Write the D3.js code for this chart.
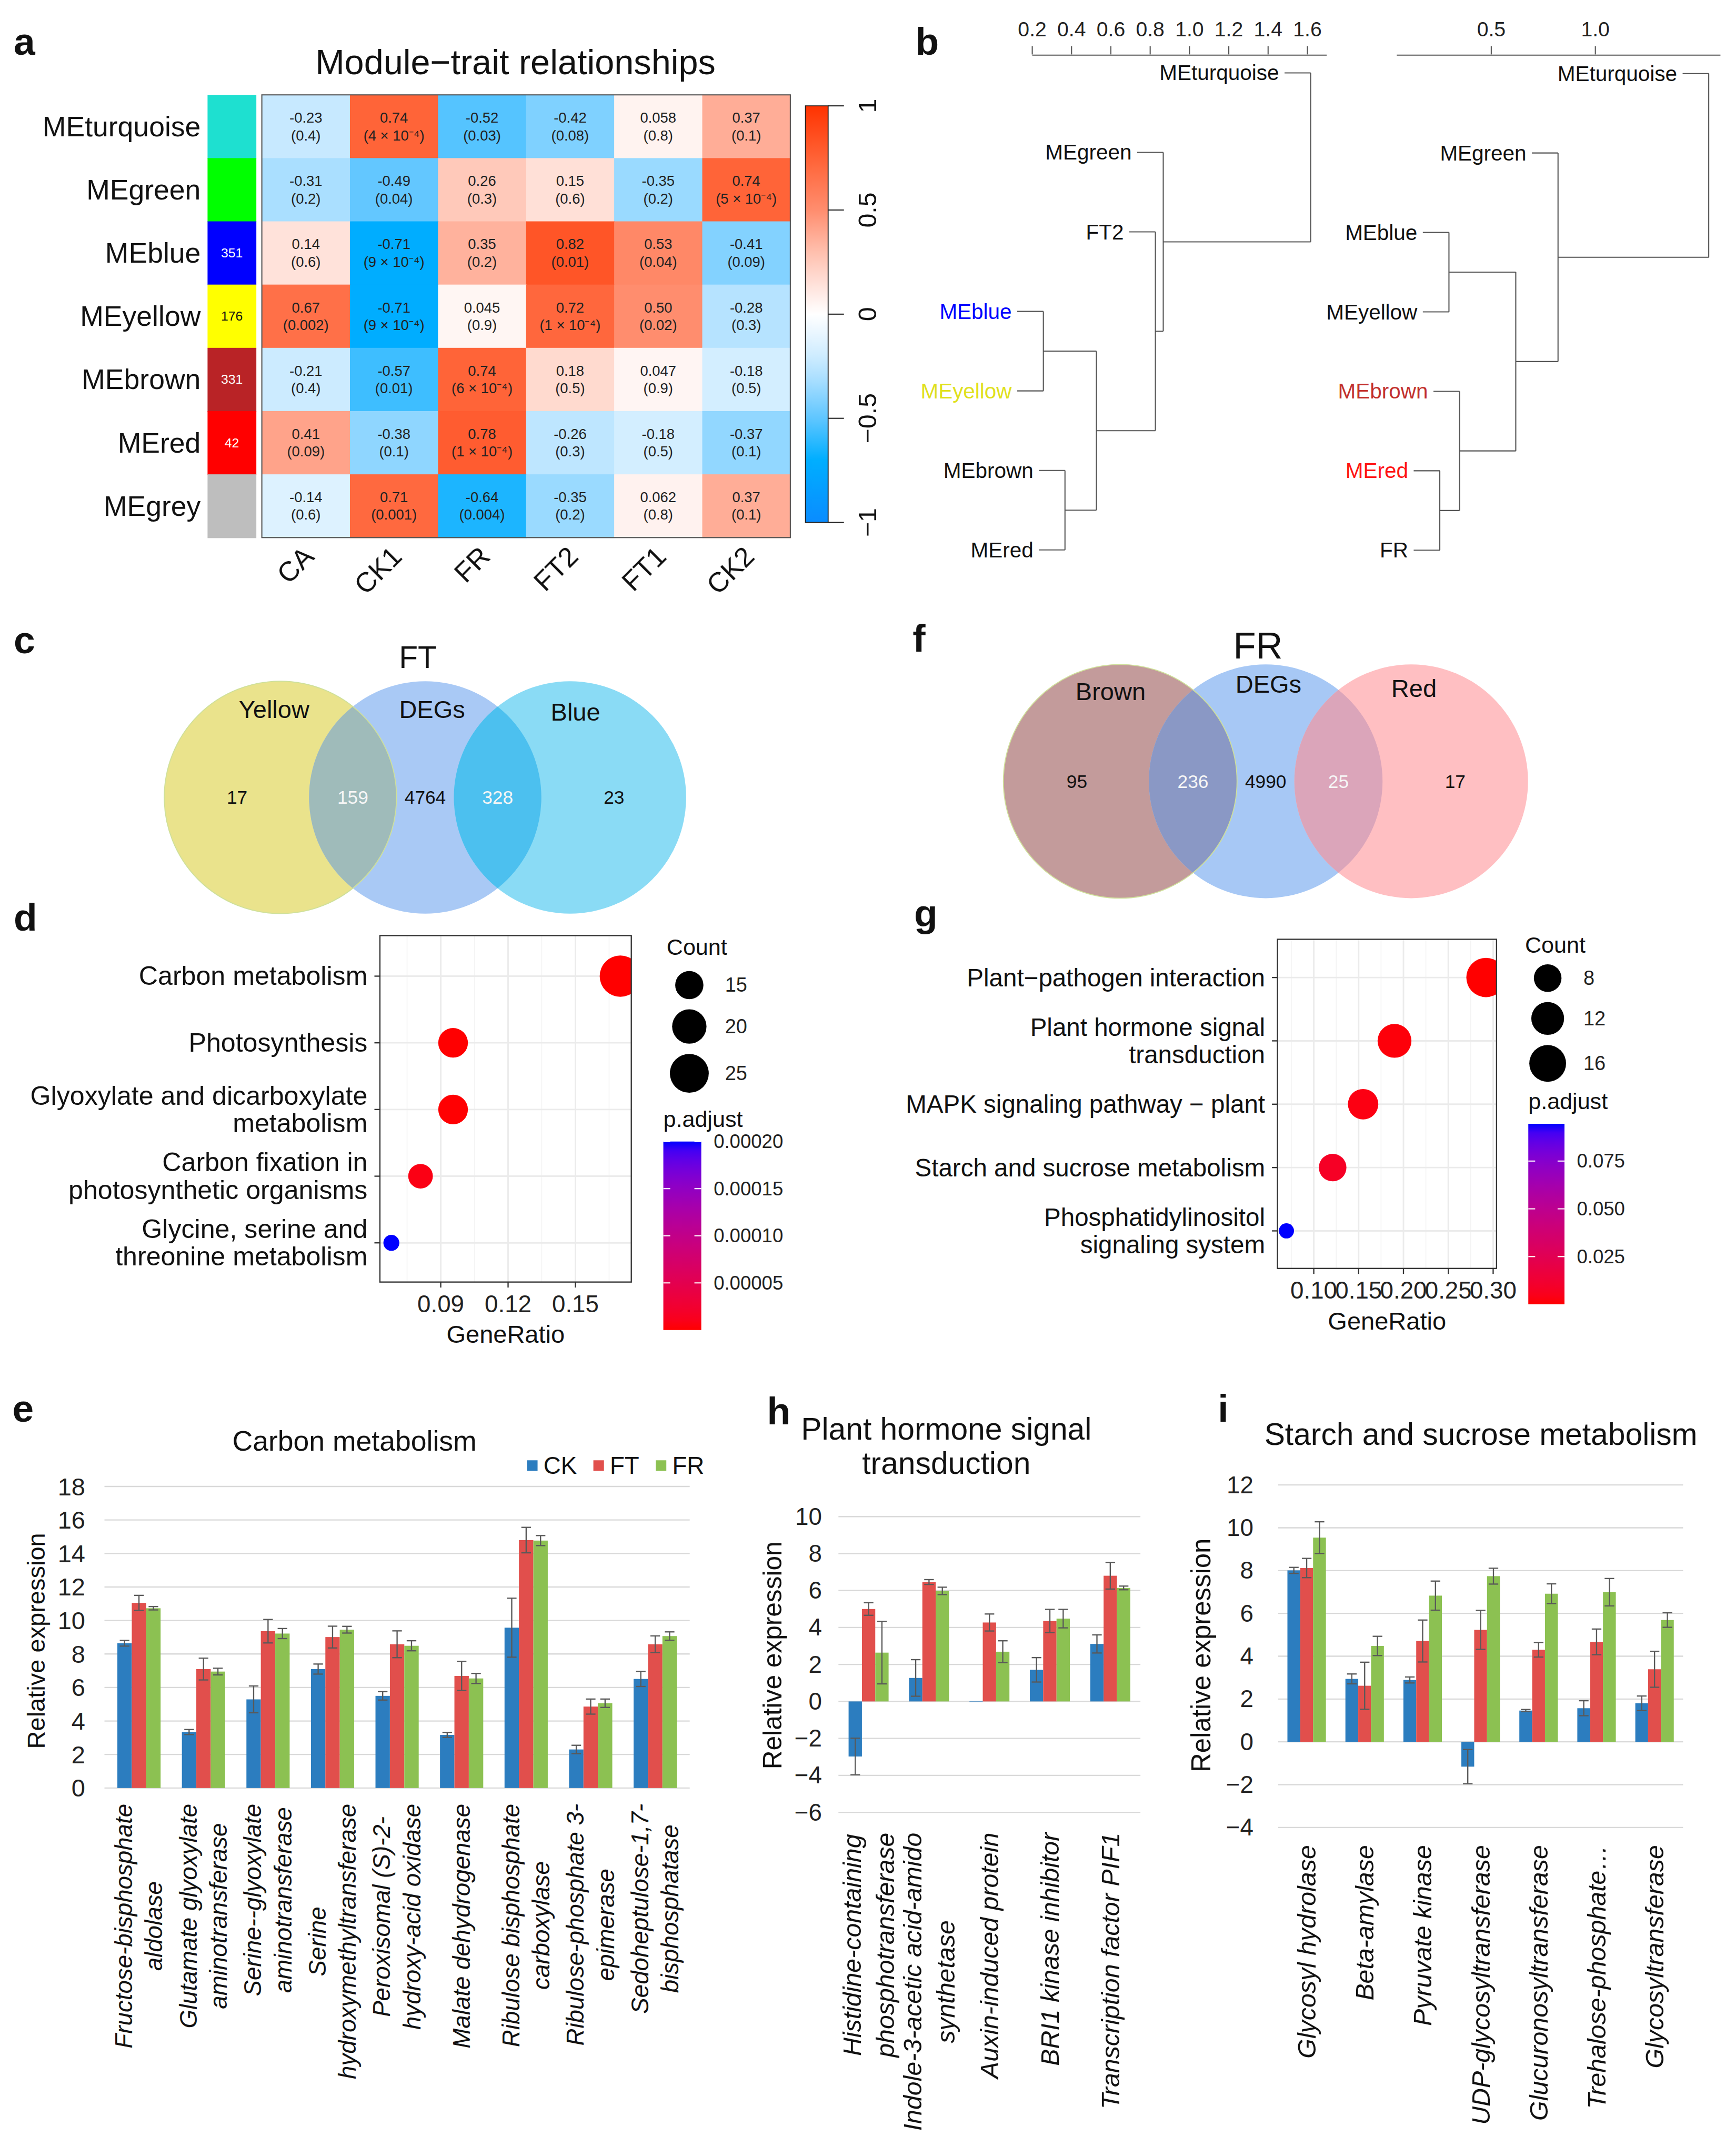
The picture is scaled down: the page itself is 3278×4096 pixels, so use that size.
<!DOCTYPE html>
<html lang="en">
<head>
<meta charset="utf-8">
<title>Module-trait relationships, KEGG enrichment and expression</title>
<script src="https://cdn.jsdelivr.net/npm/d3@7/dist/d3.min.js"></script>
<style>
  html, body { margin: 0; padding: 0; background: #fff; }
  svg { display: block; }
</style>
</head>
<body>
<div id="fig"></div>
<script>
// ---------- a: module-trait heatmap ----------
const traits = ["CA", "CK1", "FR", "FT2", "FT1", "CK2"];
const modules = ["MEturquoise", "MEgreen", "MEblue", "MEyellow", "MEbrown", "MEred", "MEgrey"];
const moduleColors = ["#1ee0d0", "#00ff00", "#0000ff", "#ffff00", "#b92326", "#ff0000", "#bebebe"];
const moduleSizes = ["", "", "351", "176", "331", "42", ""];
const corr = [
  [-0.23, 0.74, -0.52, -0.42, 0.058, 0.37],
  [-0.31, -0.49, 0.26, 0.15, -0.35, 0.74],
  [0.14, -0.71, 0.35, 0.82, 0.53, -0.41],
  [0.67, -0.71, 0.045, 0.72, 0.50, -0.28],
  [-0.21, -0.57, 0.74, 0.18, 0.047, -0.18],
  [0.41, -0.38, 0.78, -0.26, -0.18, -0.37],
  [-0.14, 0.71, -0.64, -0.35, 0.062, 0.37]
];
const corrP = [
  ["0.4", "4 × 10⁻⁴", "0.03", "0.08", "0.8", "0.1"],
  ["0.2", "0.04", "0.3", "0.6", "0.2", "5 × 10⁻⁴"],
  ["0.6", "9 × 10⁻⁴", "0.2", "0.01", "0.04", "0.09"],
  ["0.002", "9 × 10⁻⁴", "0.9", "1 × 10⁻⁴", "0.02", "0.3"],
  ["0.4", "0.01", "6 × 10⁻⁴", "0.5", "0.9", "0.5"],
  ["0.09", "0.1", "1 × 10⁻⁴", "0.3", "0.5", "0.1"],
  ["0.6", "0.001", "0.004", "0.2", "0.8", "0.1"]
];
const corrTicks = [-1, -0.5, 0, 0.5, 1];

// ---------- b: eigengene dendrograms (hclust style merges, height) ----------
const treeLeftLeaves = ["MEturquoise", "MEgreen", "FT2", "MEblue", "MEyellow", "MEbrown", "MEred"];
const treeLeftMerge = [[-4, -5, 0.26], [-6, -7, 0.37], [1, 2, 0.53], [-3, 3, 0.83], [-2, 4, 0.87], [-1, 5, 1.62]];
const treeLeftTicks = [0.2, 0.4, 0.6, 0.8, 1.0, 1.2, 1.4, 1.6];
const treeRightLeaves = ["MEturquoise", "MEgreen", "MEblue", "MEyellow", "MEbrown", "MEred", "FR"];
const treeRightMerge = [[-6, -7, 0.256], [-5, 1, 0.351], [-3, -4, 0.30], [3, 2, 0.621], [-2, 4, 0.824], [-1, 5, 1.548]];
const treeRightTicks = [0.5, 1.0];

// ---------- c, f: Venn counts (A only, A∩B, B only, B∩C, C only) ----------
const vennFTSets = ["Yellow", "DEGs", "Blue"];
const vennFTCounts = [17, 159, 4764, 328, 23];
const vennFRSets = ["Brown", "DEGs", "Red"];
const vennFRCounts = [95, 236, 4990, 25, 17];

// ---------- d, g: KEGG dot plots ----------
const keggFTTerms = ["Carbon metabolism", "Photosynthesis", "Glyoxylate and dicarboxylate\nmetabolism",
  "Carbon fixation in\nphotosynthetic organisms", "Glycine, serine and\nthreonine metabolism"];
const keggFTRatio = [0.170, 0.0955, 0.0955, 0.081, 0.068];
const keggFTCount = [28, 16, 16, 13, 11];
const keggFTPadj = [1e-9, 4e-7, 6e-7, 7e-6, 0.0002];
const keggFTMajor = [0.09, 0.12, 0.15];
const keggFTMinor = [0.075, 0.105, 0.135, 0.165];
const keggFTSizeBreaks = [15, 20, 25];
const keggFTColorBreaks = [0.00005, 0.0001, 0.00015, 0.0002];

const keggFRTerms = ["Plant\u2212pathogen interaction", "Plant hormone signal\ntransduction",
  "MAPK signaling pathway \u2212 plant", "Starch and sucrose metabolism", "Phosphatidylinositol\nsignaling system"];
const keggFRRatio = [0.292, 0.190, 0.155, 0.121, 0.0695];
const keggFRCount = [19, 13, 10, 8, 4];
const keggFRPadj = [3e-5, 0.0015, 0.003, 0.008, 0.0945];
const keggFRMajor = [0.10, 0.15, 0.20, 0.25, 0.30];
const keggFRMinor = [0.075, 0.125, 0.175, 0.225, 0.275];
const keggFRSizeBreaks = [8, 12, 16];
const keggFRColorBreaks = [0.025, 0.05, 0.075];

// ---------- e, h, i: relative expression bars ----------
const groups = ["CK", "FT", "FR"];

const carbonGenes = ["Fructose-bisphosphate\naldolase", "Glutamate glyoxylate\naminotransferase",
  "Serine--glyoxylate\naminotransferase", "Serine\nhydroxymethyltransferase",
  "Peroxisomal (S)-2-\nhydroxy-acid oxidase", "Malate dehydrogenase",
  "Ribulose bisphosphate\ncarboxylase", "Ribulose-phosphate 3-\nepimerase", "Sedoheptulose-1,7-\nbisphosphatase"];
const carbonCK = [8.64, 3.34, 5.29, 7.10, 5.50, 3.17, 9.57, 2.30, 6.51];
const carbonFT = [11.05, 7.10, 9.36, 9.01, 8.58, 6.69, 14.80, 4.86, 8.58];
const carbonFR = [10.73, 6.95, 9.22, 9.45, 8.49, 6.54, 14.77, 5.06, 9.07];
const carbonCKErr = [0.17, 0.15, 0.80, 0.30, 0.25, 0.15, 1.76, 0.25, 0.45];
const carbonFTErr = [0.45, 0.65, 0.70, 0.65, 0.80, 0.87, 0.76, 0.45, 0.50];
const carbonFRErr = [0.10, 0.20, 0.30, 0.20, 0.30, 0.30, 0.30, 0.25, 0.25];

const hormoneGenes = ["Histidine-containing\nphosphotransferase", "Indole-3-acetic acid-amido\nsynthetase",
  "Auxin-induced protein", "BRI1 kinase inhibitor", "Transcription factor PIF1"];
const hormoneCK = [-2.98, 1.27, 0.0, 1.71, 3.11];
const hormoneFT = [5.00, 6.46, 4.27, 4.35, 6.80];
const hormoneFR = [2.64, 5.98, 2.69, 4.48, 6.14];
const hormoneCKErr = [0.99, 0.99, 0.0, 0.66, 0.49];
const hormoneFTErr = [0.34, 0.13, 0.46, 0.63, 0.72];
const hormoneFRErr = [1.69, 0.20, 0.59, 0.50, 0.10];

const starchGenes = ["Glycosyl hydrolase", "Beta-amylase", "Pyruvate kinase", "UDP-glycosyltransferase",
  "Glucuronosyltransferase", "Trehalose-phosphate\u2026", "Glycosyltransferase"];
const starchCK = [8.01, 2.94, 2.89, -1.16, 1.46, 1.57, 1.80];
const starchFT = [8.12, 2.62, 4.71, 5.23, 4.30, 4.67, 3.39];
const starchFR = [9.54, 4.48, 6.83, 7.74, 6.92, 6.99, 5.69];
const starchCKErr = [0.14, 0.23, 0.14, 0.80, 0.05, 0.35, 0.34];
const starchFTErr = [0.45, 1.10, 0.98, 0.91, 0.34, 0.60, 0.84];
const starchFRErr = [0.74, 0.45, 0.68, 0.37, 0.46, 0.64, 0.34];

// ================= drawing =================
const FONT = '"Liberation Sans", Arial, Helvetica, sans-serif';
const S = 3278 / 1255; // layout below is in units of the 1255 px wide preview
const svg = d3.select("#fig").append("svg")
  .attr("width", 3278).attr("height", 4096).attr("font-family", FONT);
svg.append("rect").attr("width", 3278).attr("height", 4096).attr("fill", "#fff");
const defs = svg.append("defs");
const root = svg.append("g").attr("transform", `scale(${S})`);

function txt(g, x, y, s, size, o = {}) {
  const t = g.append("text").attr("x", x).attr("y", y).attr("font-size", size)
    .attr("text-anchor", o.anchor || "start")
    .attr("dominant-baseline", o.base || "central")
    .attr("fill", o.fill || "#111").text(s);
  if (o.weight) t.attr("font-weight", o.weight);
  if (o.italic) t.attr("font-style", "italic");
  if (o.rotate) t.attr("transform", `rotate(${o.rotate},${x},${y})`);
  return t;
}
function line(g, x1, y1, x2, y2, col, w) {
  return g.append("line").attr("x1", x1).attr("y1", y1).attr("x2", x2).attr("y2", y2)
    .attr("stroke", col).attr("stroke-width", w);
}

// panel letters
[["a", 10, 40], ["b", 666, 40], ["c", 10, 475], ["d", 10, 677], ["e", 9, 1034],
 ["f", 664, 474], ["g", 665, 674], ["h", 558, 1036], ["i", 886, 1034]]
  .forEach(([l, x, y]) => txt(root, x, y, l, 28, { weight: "bold", base: "alphabetic" }));

// ---------- a ----------
const corrColor = d3.scaleLinear()
  .domain([-1, -0.7, -0.5, -0.25, 0, 0.25, 0.5, 0.75, 1])
  .range(["#0a8cff", "#00aeff", "#5fc6ff", "#c2e7ff", "#ffffff", "#ffcbbd", "#ff8d6e", "#ff6236", "#ff3300"]);

(function drawHeatmap() {
  const g = root.append("g");
  const x = d3.scaleBand().domain(traits).range([190.5, 575]);
  const y = d3.scaleBand().domain(modules).range([69, 391]);
  const fmt = d3.format(".2r");
  txt(g, 375, 45, "Module\u2212trait relationships", 25.5, { anchor: "middle" });
  modules.forEach((m, i) => {
    const yc = y(m) + y.bandwidth() / 2;
    g.append("rect").attr("x", 151).attr("y", y(m)).attr("width", 35.5)
      .attr("height", y.bandwidth() + 0.4).attr("fill", moduleColors[i]);
    if (moduleSizes[i]) txt(g, 168.7, yc, moduleSizes[i], 9.5,
      { anchor: "middle", fill: d3.lab(moduleColors[i]).l < 70 ? "#fff" : "#111" });
    txt(g, 146, yc, m, 20.5, { anchor: "end" });
    traits.forEach((t, j) => {
      g.append("rect").attr("x", x(t)).attr("y", y(m))
        .attr("width", x.bandwidth() + 0.4).attr("height", y.bandwidth() + 0.4)
        .attr("fill", corrColor(corr[i][j]));
      const xc = x(t) + x.bandwidth() / 2;
      txt(g, xc, y(m) + 16.6, fmt(corr[i][j]).replace("\u2212", "-"), 10.5, { anchor: "middle", fill: "#222" });
      txt(g, xc, y(m) + 29.4, "(" + corrP[i][j] + ")", 10.5, { anchor: "middle", fill: "#222" });
    });
  });
  g.append("rect").attr("x", 190.5).attr("y", 69).attr("width", 384.5).attr("height", 322)
    .attr("fill", "none").attr("stroke", "#555").attr("stroke-width", 0.8);
  traits.forEach(t => txt(g, x(t) + x.bandwidth() / 2 + 7, 406, t, 20,
    { anchor: "end", base: "alphabetic", rotate: -45 }));

  // colour key
  const cy = d3.scaleLinear().domain([-1, 1]).range([380, 77]);
  const grad = defs.append("linearGradient").attr("id", "corrGrad")
    .attr("x1", 0).attr("y1", 1).attr("x2", 0).attr("y2", 0);
  d3.range(0, 1.0001, 0.05).forEach(t =>
    grad.append("stop").attr("offset", t).attr("stop-color", corrColor(-1 + 2 * t)));
  g.append("rect").attr("x", 586).attr("y", 77).attr("width", 16.5).attr("height", 303)
    .attr("fill", "url(#corrGrad)").attr("stroke", "#222").attr("stroke-width", 0.7);
  corrTicks.forEach(v => {
    line(g, 602.5, cy(v), 614, cy(v), "#222", 0.8);
    txt(g, 631, cy(v), d3.format("")(v), 18.5, { anchor: "middle", rotate: -90 });
  });
})();

// ---------- b ----------
function drawTree(leaves, merges, ticks, x, yTop, yBot, labelColors) {
  const g = root.append("g");
  const y = d3.scalePoint().domain(leaves).range([yTop, yBot]);
  const hang = 19;
  const col = "#555";
  const place = id => {
    if (id < 0) return { leaf: leaves[-id - 1], y: y(leaves[-id - 1]) };
    const [a, b, h] = merges[id - 1];
    const pa = place(a), pb = place(b);
    [pa, pb].forEach(p => {
      const xs = p.leaf ? x(h) - hang : x(p.h);
      line(g, xs, p.y, x(h), p.y, col, 0.8);
      if (p.leaf) txt(g, xs - 4, p.y, p.leaf, 15.5, { anchor: "end", fill: labelColors[p.leaf] || "#111" });
    });
    line(g, x(h), pa.y, x(h), pb.y, col, 0.8);
    return { h, y: (pa.y + pb.y) / 2 };
  };
  place(merges.length);
  const ax = g.append("g").attr("transform", "translate(0,39.6)")
    .call(d3.axisTop(x).tickValues(ticks).tickFormat(d3.format(".1f"))
      .tickSize(6).tickSizeOuter(0).tickPadding(7));
  ax.attr("font-family", FONT).attr("font-size", 15);
  ax.selectAll("path, line").attr("stroke", col).attr("stroke-width", 0.8);
  ax.selectAll("text").attr("fill", "#222");
}
drawTree(treeLeftLeaves, treeLeftMerge, treeLeftTicks,
  d3.scaleLinear().domain([0.2, 1.698]).range([750.5, 964.7]), 53, 400,
  { MEblue: "#0000ff", MEyellow: "#e0e01c" });
drawTree(treeRightLeaves, treeRightMerge, treeRightTicks,
  d3.scaleLinear().domain([0.046, 1.601]).range([1015.7, 1251.2]), 53.5, 400.2,
  { MEbrown: "#c2302c", MEred: "#ff1414" });

// ---------- c, f ----------
function drawVenn(id, sets, counts, o) {
  const g = root.append("g");
  const cx = d3.scalePoint().domain(sets).range(o.cxRange);
  sets.forEach((s, k) => defs.append("clipPath").attr("id", `${id}c${k}`)
    .append("circle").attr("cx", cx(s)).attr("cy", o.cy).attr("r", o.r));
  sets.forEach((s, k) => g.append("circle").attr("cx", cx(s)).attr("cy", o.cy).attr("r", o.r).attr("fill", o.fills[k]));
  [0, 1].forEach(k => g.append("circle").attr("clip-path", `url(#${id}c${k})`)
    .attr("cx", cx(sets[k + 1])).attr("cy", o.cy).attr("r", o.r).attr("fill", o.overlap[k]));
  g.append("circle").attr("cx", cx(sets[0])).attr("cy", o.cy).attr("r", o.r)
    .attr("fill", "none").attr("stroke", "#cfe09a").attr("stroke-width", 0.7);
  txt(g, o.titleX, o.titleY, o.title, o.titleSize, { anchor: "middle" });
  sets.forEach((s, k) => txt(g, cx(s) + o.nameDx[k], o.cy + o.nameDy[k], s, 18, { anchor: "middle" }));
  const c = sets.map(cx);
  const px = [c[0] - 31.5, (c[0] + c[1]) / 2, c[1], (c[1] + c[2]) / 2, c[2] + 32];
  counts.forEach((n, k) => txt(g, px[k], o.cy, n, 13.5,
    { anchor: "middle", fill: k % 2 ? "#f6f6f6" : "#111" }));
}
drawVenn("vft", vennFTSets, vennFTCounts, {
  cxRange: [204, 414.7], cy: 580, r: 84.5,
  fills: ["#eae38c", "#a9c9f5", "#8adbf5"], overlap: ["#9fbbba", "#4cc0ef"],
  title: "FT", titleX: 304, titleY: 478, titleSize: 22.5,
  nameDx: [-4.6, 5, 4], nameDy: [-64, -64, -62]
});
drawVenn("vfr", vennFRSets, vennFRCounts, {
  cxRange: [815, 1026.7], cy: 568.3, r: 85,
  fills: ["#c39b9b", "#a7c8f5", "#ffbfc2"], overlap: ["#8a98c5", "#dba5ba"],
  title: "FR", titleX: 915.2, titleY: 469.6, titleSize: 27,
  nameDx: [-7, 2, 2], nameDy: [-65.6, -70.6, -67.7]
});

// ---------- d, g ----------
function drawDots(id, terms, ratio, count, padj, major, minor, sizeBreaks, colorBreaks, o) {
  const g = root.append("g");
  const x = d3.scaleLinear().domain(o.xDomain).range([o.x0, o.x1]);
  const y = d3.scalePoint().domain(terms).range([o.yFirst, o.yLast]);
  const color = d3.scaleLinear().domain(d3.extent(padj)).range(["#ff0000", "#0000ff"]).interpolate(d3.interpolateLab);
  const cnt = d3.scaleLinear().domain(d3.extent(count)).range([0, 1]);
  const rad = c => o.r[0] + (o.r[1] - o.r[0]) * Math.sqrt(Math.max(0, cnt(c)));

  g.append("rect").attr("x", o.x0).attr("y", o.y0).attr("width", o.x1 - o.x0).attr("height", o.y1 - o.y0).attr("fill", "#fff");
  minor.forEach(v => line(g, x(v), o.y0, x(v), o.y1, "#f3f3f3", 0.6));
  major.forEach(v => line(g, x(v), o.y0, x(v), o.y1, "#ebebeb", 1.1));
  terms.forEach(t => line(g, o.x0, y(t), o.x1, y(t), "#ebebeb", 1.1));

  defs.append("clipPath").attr("id", id).append("rect")
    .attr("x", o.x0).attr("y", o.y0).attr("width", o.x1 - o.x0).attr("height", o.y1 - o.y0);
  g.append("g").attr("clip-path", `url(#${id})`).selectAll("circle").data(terms).join("circle")
    .attr("cx", (d, i) => x(ratio[i])).attr("cy", d => y(d))
    .attr("r", (d, i) => rad(count[i])).attr("fill", (d, i) => color(padj[i]));

  g.append("rect").attr("x", o.x0).attr("y", o.y0).attr("width", o.x1 - o.x0).attr("height", o.y1 - o.y0)
    .attr("fill", "none").attr("stroke", "#333").attr("stroke-width", 0.9);

  terms.forEach(t => {
    line(g, o.x0 - 4, y(t), o.x0, y(t), "#333", 0.9);
    const lines = t.split("\n");
    lines.forEach((s, k) => txt(g, o.x0 - 9, y(t) + (k - (lines.length - 1) / 2) * 20, s, o.termSize, { anchor: "end" }));
  });
  major.forEach(v => {
    line(g, x(v), o.y1, x(v), o.y1 + 4, "#333", 0.9);
    txt(g, x(v), o.y1 + 16, d3.format(".2f")(v), 17.5, { anchor: "middle", fill: "#222" });
  });
  txt(g, (o.x0 + o.x1) / 2, o.y1 + 38, "GeneRatio", 18, { anchor: "middle" });

  // size legend
  txt(g, o.legCx - 16.5, o.countY, "Count", 16.5);
  let cy = o.dotY;
  sizeBreaks.forEach((v, k) => {
    if (k > 0) cy += rad(sizeBreaks[k - 1]) + rad(v) + 7.4;
    g.append("circle").attr("cx", o.legCx).attr("cy", cy).attr("r", rad(v)).attr("fill", "#000");
    txt(g, o.legCx + 26, cy, v, 14.5, { fill: "#222" });
  });
  // colour legend
  txt(g, o.barX, o.padjY, "p.adjust", 16.5);
  const by = d3.scaleLinear().domain(d3.extent(padj)).range([o.barBot, o.barTop]);
  const grad = defs.append("linearGradient").attr("id", id + "g")
    .attr("x1", 0).attr("y1", 1).attr("x2", 0).attr("y2", 0);
  d3.range(0, 1.0001, 0.05).forEach(t => grad.append("stop").attr("offset", t)
    .attr("stop-color", color(by.invert(o.barBot - t * (o.barBot - o.barTop)))));
  g.append("rect").attr("x", o.barX).attr("y", o.barTop).attr("width", o.barW)
    .attr("height", o.barBot - o.barTop).attr("fill", `url(#${id}g)`);
  colorBreaks.forEach(v => {
    line(g, o.barX, by(v), o.barX + 5, by(v), "#fff", 0.8);
    line(g, o.barX + o.barW - 5, by(v), o.barX + o.barW, by(v), "#fff", 0.8);
    txt(g, o.barX + o.barW + 9, by(v), d3.format(o.barFmt)(v), 14, { fill: "#222" });
  });
}
drawDots("dotFT", keggFTTerms, keggFTRatio, keggFTCount, keggFTPadj, keggFTMajor, keggFTMinor,
  keggFTSizeBreaks, keggFTColorBreaks, {
    xDomain: [0.0629, 0.1749], x0: 276.4, x1: 459.3, y0: 680.5, y1: 932.5, yFirst: 710, yLast: 904,
    r: [5.8, 15], termSize: 19.2, legCx: 501.5, countY: 688.6, dotY: 716.5,
    padjY: 814, barX: 482.6, barW: 27.6, barTop: 830.3, barBot: 967.4, barFmt: ".5f"
  });
drawDots("dotFR", keggFRTerms, keggFRRatio, keggFRCount, keggFRPadj, keggFRMajor, keggFRMinor,
  keggFRSizeBreaks, keggFRColorBreaks, {
    xDomain: [0.0595, 0.3038], x0: 929.4, x1: 1088.8, y0: 683.2, y1: 922.6, yFirst: 711, yLast: 895.3,
    r: [5.5, 14.3], termSize: 18.2, legCx: 1126, countY: 687.2, dotY: 711.4,
    padjY: 800.8, barX: 1111.9, barW: 26.3, barTop: 817.4, barBot: 948.7, barFmt: ".3f"
  });

// ---------- e, h, i ----------
const seriesColors = ["#2c7dbf", "#e14f4c", "#8cc152"];
function drawBars(labels, values, errors, o) {
  const g = root.append("g");
  const x0 = d3.scaleBand().domain(d3.range(labels.length)).range([o.xL, o.xR])
    .paddingInner(o.pIn).paddingOuter(o.pOut);
  const x1 = d3.scaleBand().domain(groups).range([0, x0.bandwidth()]);
  const y = d3.scaleLinear().domain(o.yDomain).range([o.yB, o.yT]);
  const ticks = d3.range(o.yDomain[0], o.yDomain[1] + 0.1, 2);
  ticks.forEach(v => {
    line(g, o.xL, y(v), o.xR, y(v), "#d9d9d9", 0.9);
    txt(g, o.xL - o.tickPad, y(v), d3.format("d")(v), o.tickSize, { anchor: "end", fill: "#222" });
  });
  groups.forEach((s, k) => values[k].forEach((v, i) => {
    const bx = x0(i) + x1(s);
    g.append("rect").attr("x", bx).attr("y", y(Math.max(0, v))).attr("width", x1.bandwidth())
      .attr("height", Math.max(0.4, Math.abs(y(v) - y(0)))).attr("fill", seriesColors[k]);
    const e = errors[k][i];
    if (e > 0) {
      const c = bx + x1.bandwidth() / 2;
      line(g, c, y(v - e), c, y(v + e), "#595959", 0.9);
      line(g, c - 3.5, y(v - e), c + 3.5, y(v - e), "#595959", 0.9);
      line(g, c - 3.5, y(v + e), c + 3.5, y(v + e), "#595959", 0.9);
    }
  }));
  labels.forEach((lab, i) => {
    const lines = lab.split("\n");
    const xc = x0(i) + x0.bandwidth() / 2;
    const lg = g.append("g").attr("transform", `translate(${xc},${o.labelTop}) rotate(-90)`);
    const ts = lines.map((s, k) => lg.append("text").attr("x", 0)
      .attr("y", (k - (lines.length - 1) / 2) * o.lineGap)
      .attr("text-anchor", "end").attr("dominant-baseline", "central")
      .attr("font-size", o.labelSize).attr("font-style", "italic").attr("fill", "#111").text(s));
    const maxLen = d3.max(ts, t => t.node().getComputedTextLength());
    ts.forEach(t => t.attr("x", -maxLen / 2).attr("text-anchor", "middle"));
  });
  o.title.forEach((s, k) => txt(g, o.titleX, o.titleY[k], s, o.titleSize, { anchor: "middle" }));
  txt(g, o.axX, o.axY, "Relative expression", o.axSize, { anchor: "middle", rotate: -90 });
  if (o.legend) {
    let lx = o.legend[0];
    groups.forEach((s, k) => {
      g.append("rect").attr("x", lx).attr("y", o.legend[1] - 3.85).attr("width", 7.7).attr("height", 7.7)
        .attr("fill", seriesColors[k]);
      const t = txt(g, lx + 12, o.legend[1], s, 17.5);
      lx += 12 + t.node().getComputedTextLength() + 12;
    });
  }
}
drawBars(carbonGenes, [carbonCK, carbonFT, carbonFR], [carbonCKErr, carbonFTErr, carbonFRErr], {
  xL: 76, xR: 501.8, pIn: 0.33, pOut: 0.2, yDomain: [0, 18], yB: 1300.5, yT: 1081.2,
  tickPad: 14, tickSize: 18, labelTop: 1312, lineGap: 22, labelSize: 17.5,
  title: ["Carbon metabolism"], titleX: 257.9, titleY: [1048.2], titleSize: 20.5,
  axX: 26.1, axY: 1193.5, axSize: 18, legend: [383.4, 1066]
});
drawBars(hormoneGenes, [hormoneCK, hormoneFT, hormoneFR], [hormoneCKErr, hormoneFTErr, hormoneFRErr], {
  xL: 610, xR: 829.7, pIn: 0.338, pOut: 0.168, yDomain: [-6, 10], yB: 1318.2, yT: 1103.1,
  tickPad: 12, tickSize: 17.5, labelTop: 1333, lineGap: 24, labelSize: 18.5,
  title: ["Plant hormone signal", "transduction"], titleX: 688.5, titleY: [1039.4, 1064.2], titleSize: 22.5,
  axX: 561.9, axY: 1204, axSize: 19
});
drawBars(starchGenes, [starchCK, starchFT, starchFR], [starchCKErr, starchFTErr, starchFRErr], {
  xL: 929.9, xR: 1224.5, pIn: 0.336, pOut: 0.16, yDomain: [-4, 12], yB: 1329.2, yT: 1080.1,
  tickPad: 18, tickSize: 17.5, labelTop: 1342, lineGap: 24, labelSize: 18.5,
  title: ["Starch and sucrose metabolism"], titleX: 1077.4, titleY: [1042.9], titleSize: 22.5,
  axX: 873.9, axY: 1204, axSize: 19.5
});
</script>
</body>
</html>
